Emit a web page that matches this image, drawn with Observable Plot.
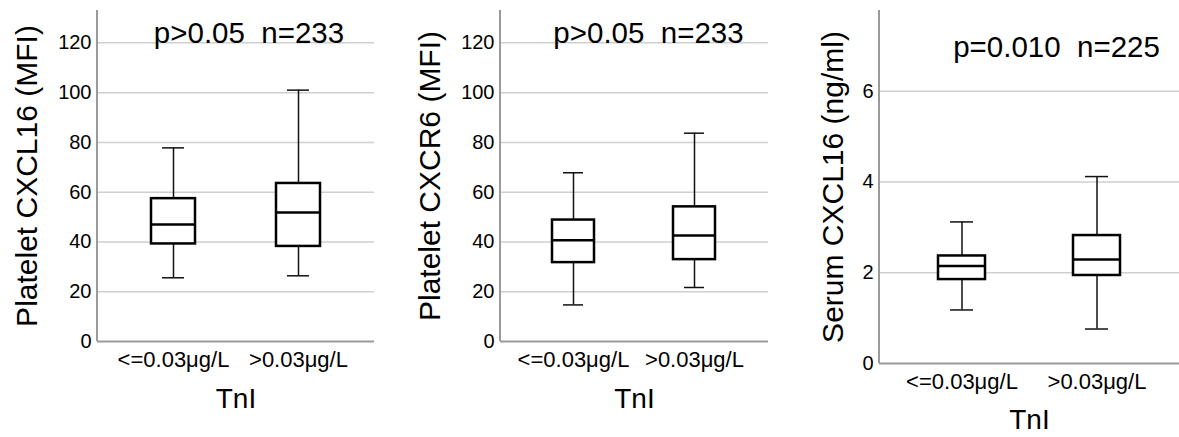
<!DOCTYPE html>
<html>
<head>
<meta charset="utf-8">
<script src="https://cdn.jsdelivr.net/npm/d3@7"></script>
<script src="https://cdn.jsdelivr.net/npm/@observablehq/plot@0.6"></script>
<style>
  html, body { margin: 0; padding: 0; background: #fff; }
  #wrap { position: relative; width: 1179px; height: 437px; overflow: hidden; }
  #wrap svg { position: absolute; top: 0; overflow: visible; }
  svg text { white-space: pre; }
  svg g[aria-label="y-axis tick label"] { font-size: 20px !important; }
  svg g[aria-label="y-axis tick label"] text { font-size: 20px !important; }
  svg g[aria-label="x-axis tick label"] { font-size: 22px !important; }
  svg g[aria-label="x-axis tick label"] text { font-size: 22px !important; }
</style>
</head>
<body>
<div id="wrap"></div>
<script>
// Categories
const groups = ["<=0.03μg/L", ">0.03μg/L"];

// Panel 1: Platelet CXCL16 (MFI)
const aMin = [25.6, 26.4];
const aQ1  = [39.2, 38.2];
const aMed = [47.0, 51.8];
const aQ3  = [57.4, 63.5];
const aMax = [77.8, 101.0];

// Panel 2: Platelet CXCR6 (MFI)
const bMin = [14.7, 21.7];
const bQ1  = [31.7, 32.9];
const bMed = [40.7, 42.6];
const bQ3  = [48.8, 54.1];
const bMax = [67.8, 83.7];

// Panel 3: Serum CXCL16 (ng/ml)
const cMin = [1.18, 0.76];
const cQ1  = [1.85, 1.94];
const cMed = [2.15, 2.29];
const cQ3  = [2.37, 2.82];
const cMax = [3.12, 4.12];

// Texts and ticks
const yTitles = ["Platelet CXCL16 (MFI)", "Platelet CXCR6 (MFI)", "Serum CXCL16 (ng/ml)"];
const statTexts = ["p>0.05  n=233", "p>0.05  n=233", "p=0.010  n=225"];
const xTitle = "TnI";
const ticksMFI = [0, 20, 40, 60, 80, 100, 120];
const ticksSerum = [0, 2, 4, 6];

function rows(mn, q1, md, q3, mx) {
  return groups.map((g, i) => ({group: g, min: mn[i], q1: q1[i], median: md[i], q3: q3[i], max: mx[i]}));
}

const panels = [
  {data: rows(aMin, aQ1, aMed, aQ3, aMax), left: 0, width: 390, ml: 97, mr: 16, mb: 96, yMax: 133, ticks: ticksMFI,
   title: yTitles[0], stat: statTexts[0], statDx: 13, statDy: 23, titleDx: -70, cap: 11, xtDy: 47},
  {data: rows(bMin, bQ1, bMed, bQ3, bMax), left: 390, width: 390, ml: 110, mr: 12, mb: 96, yMax: 133, ticks: ticksMFI,
   title: yTitles[1], stat: statTexts[1], statDx: 14, statDy: 23, titleDx: -70, cap: 11, xtDy: 47},
  {data: rows(cMin, cQ1, cMed, cQ3, cMax), left: 780, width: 399, ml: 99, mr: 0, mb: 74, yMax: 7.78, ticks: ticksSerum,
   title: yTitles[2], stat: statTexts[2], statDx: 27, statDy: 37, titleDx: -46, cap: 12, xtDy: 46}
];

const wrap = document.getElementById("wrap");

for (const p of panels) {
  const leftAxisLine = (index, scales, values, dims) => {
    const line = document.createElementNS("http://www.w3.org/2000/svg", "line");
    line.setAttribute("x1", dims.marginLeft);
    line.setAttribute("x2", dims.marginLeft);
    line.setAttribute("y1", dims.marginTop);
    line.setAttribute("y2", dims.height - dims.marginBottom);
    line.setAttribute("stroke", "#9a9a9a");
    line.setAttribute("stroke-width", 2);
    return line;
  };
  const chart = Plot.plot({
    width: p.width,
    height: 437,
    marginLeft: p.ml,
    marginRight: p.mr,
    marginTop: 10,
    marginBottom: p.mb,
    style: {fontFamily: "'Liberation Sans', Arial, sans-serif", color: "#000", background: "transparent"},
    x: {domain: groups, paddingInner: 0.65, paddingOuter: 0.43, label: null},
    y: {domain: [0, p.yMax], label: null},
    marks: [
      Plot.gridY(p.ticks.filter(t => t !== 0), {stroke: "#cfcfcf", strokeOpacity: 1, strokeWidth: 1.5}),
      Plot.ruleY([0], {stroke: "#9a9a9a", strokeWidth: 2}),
      leftAxisLine,
      Plot.axisY({ticks: p.ticks, tickSize: 0, tickPadding: 6, fontSize: 20, label: null}),
      Plot.axisX({tickSize: 0, tickPadding: 10, fontSize: 22, label: null}),
      Plot.ruleX(p.data, {x: "group", y1: "q3", y2: "max", stroke: "#111", strokeWidth: 1.5}),
      Plot.ruleX(p.data, {x: "group", y1: "min", y2: "q1", stroke: "#111", strokeWidth: 1.5}),
      Plot.tickY(p.data, {x: "group", y: "max", stroke: "#111", strokeWidth: 1.5, insetLeft: p.cap, insetRight: p.cap}),
      Plot.tickY(p.data, {x: "group", y: "min", stroke: "#111", strokeWidth: 1.5, insetLeft: p.cap, insetRight: p.cap}),
      Plot.barY(p.data, {x: "group", y1: "q1", y2: "q3", fill: "white", stroke: "#000", strokeWidth: 2.5}),
      Plot.tickY(p.data, {x: "group", y: "median", stroke: "#000", strokeWidth: 2.5}),
      Plot.text([p.stat], {text: d => d, frameAnchor: "top", textAnchor: "middle", lineAnchor: "middle",
        dx: p.statDx, dy: p.statDy, fontSize: 29.5, fill: "#000"}),
      Plot.text([p.title], {text: d => d, frameAnchor: "left", textAnchor: "middle", lineAnchor: "middle",
        rotate: -90, dx: p.titleDx, fontSize: 30, fill: "#000"}),
      Plot.text([xTitle], {text: d => d, frameAnchor: "bottom", textAnchor: "middle", lineAnchor: "top",
        dy: p.xtDy, fontSize: 28, fill: "#000"})
    ]
  });
  chart.style.left = p.left + "px";
  wrap.appendChild(chart);
}
</script>
</body>
</html>
